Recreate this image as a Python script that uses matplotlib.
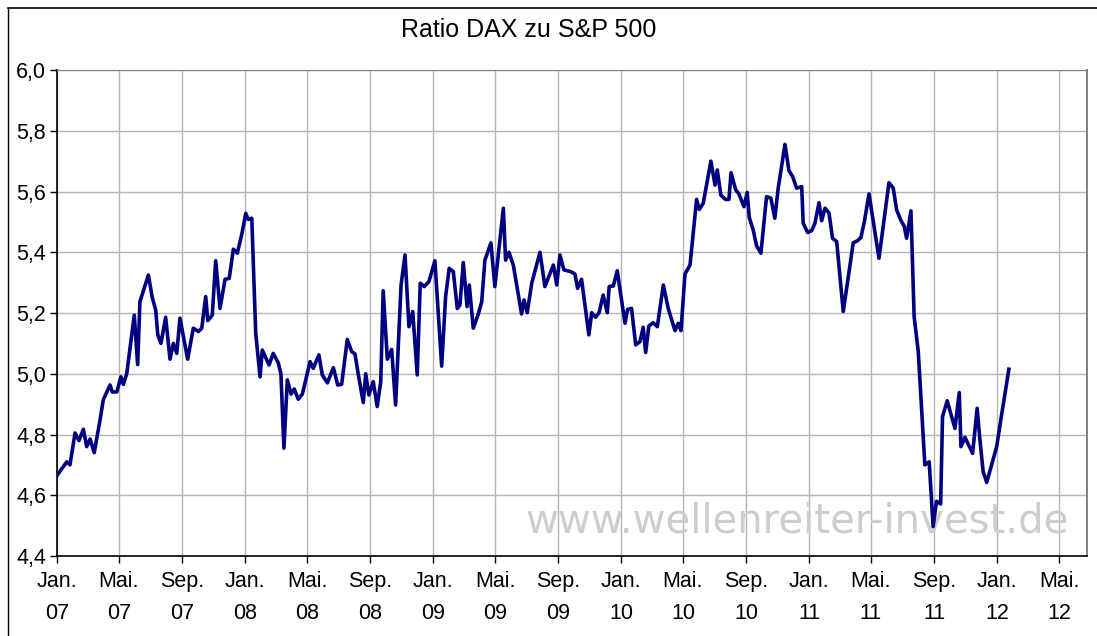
"""Ratio DAX zu S&P 500 (Wochendaten 2007-2012)."""
import numpy as np
import pandas as pd
import matplotlib
matplotlib.use("Agg")
import matplotlib.pyplot as plt
from matplotlib.ticker import FuncFormatter
from matplotlib.lines import Line2D

plt.rcParams['font.family'] = ['Liberation Sans', 'DejaVu Sans']

# Zeitpunkte als Dezimaljahre, Werte = Ratio DAX / S&P 500
years = [
    2007.000, 2007.052, 2007.069, 2007.096, 2007.117, 2007.140, 2007.158, 2007.176,
    2007.198, 2007.229, 2007.246, 2007.282, 2007.294, 2007.318, 2007.340, 2007.353,
    2007.371, 2007.411, 2007.429, 2007.441, 2007.486, 2007.507, 2007.525, 2007.536,
    2007.553, 2007.578, 2007.601, 2007.619, 2007.637, 2007.654, 2007.695, 2007.725,
    2007.752, 2007.770, 2007.791, 2007.802, 2007.826, 2007.844, 2007.867, 2007.894,
    2007.916, 2007.938, 2007.959, 2007.982, 2008.004, 2008.017, 2008.036, 2008.057,
    2008.080, 2008.092, 2008.128, 2008.150, 2008.177, 2008.191, 2008.207, 2008.225,
    2008.245, 2008.262, 2008.283, 2008.305, 2008.346, 2008.363, 2008.393, 2008.411,
    2008.438, 2008.470, 2008.493, 2008.514, 2008.544, 2008.567, 2008.585, 2008.602,
    2008.629, 2008.642, 2008.659, 2008.682, 2008.703, 2008.722, 2008.735, 2008.757,
    2008.780, 2008.801, 2008.830, 2008.851, 2008.872, 2008.892, 2008.916, 2008.932,
    2008.953, 2008.978, 2009.010, 2009.046, 2009.067, 2009.086, 2009.108, 2009.129,
    2009.143, 2009.161, 2009.181, 2009.193, 2009.214, 2009.241, 2009.259, 2009.276,
    2009.308, 2009.329, 2009.374, 2009.386, 2009.404, 2009.427, 2009.471, 2009.484,
    2009.501, 2009.525, 2009.569, 2009.595, 2009.640, 2009.658, 2009.675, 2009.696,
    2009.734, 2009.755, 2009.769, 2009.790, 2009.829, 2009.844, 2009.865, 2009.883,
    2009.905, 2009.927, 2009.937, 2009.959, 2009.980, 2010.021, 2010.035, 2010.056,
    2010.078, 2010.101, 2010.118, 2010.131, 2010.148, 2010.171, 2010.193, 2010.225,
    2010.251, 2010.287, 2010.304, 2010.319, 2010.340, 2010.367, 2010.402, 2010.416,
    2010.437, 2010.478, 2010.500, 2010.512, 2010.531, 2010.556, 2010.574, 2010.585,
    2010.610, 2010.627, 2010.654, 2010.671, 2010.682, 2010.703, 2010.721, 2010.744,
    2010.774, 2010.797, 2010.818, 2010.836, 2010.872, 2010.893, 2010.913, 2010.934,
    2010.961, 2010.969, 2010.993, 2011.014, 2011.031, 2011.053, 2011.067, 2011.085,
    2011.106, 2011.125, 2011.147, 2011.182, 2011.235, 2011.258, 2011.276, 2011.294,
    2011.319, 2011.372, 2011.425, 2011.448, 2011.466, 2011.489, 2011.506, 2011.519,
    2011.542, 2011.559, 2011.581, 2011.616, 2011.639, 2011.660, 2011.678, 2011.700,
    2011.710, 2011.735, 2011.776, 2011.799, 2011.808, 2011.829, 2011.870, 2011.894,
    2011.909, 2011.926, 2011.945, 2011.998, 2012.024, 2012.063,
]
ratio = [
    4.665, 4.710, 4.700, 4.805, 4.780, 4.817, 4.760, 4.785,
    4.740, 4.848, 4.914, 4.963, 4.940, 4.940, 4.990, 4.965,
    5.000, 5.193, 5.030, 5.237, 5.325, 5.250, 5.210, 5.128,
    5.100, 5.186, 5.048, 5.100, 5.067, 5.183, 5.048, 5.150,
    5.139, 5.150, 5.254, 5.175, 5.193, 5.372, 5.215, 5.311,
    5.314, 5.410, 5.397, 5.457, 5.528, 5.508, 5.512, 5.133,
    4.990, 5.078, 5.029, 5.067, 5.036, 5.000, 4.755, 4.980,
    4.933, 4.950, 4.916, 4.933, 5.040, 5.018, 5.062, 4.996,
    4.970, 5.020, 4.963, 4.965, 5.113, 5.073, 5.065, 5.000,
    4.905, 5.000, 4.930, 4.974, 4.892, 4.974, 5.273, 5.048,
    5.080, 4.897, 5.292, 5.391, 5.155, 5.205, 4.996, 5.298,
    5.287, 5.303, 5.372, 5.025, 5.254, 5.347, 5.336, 5.215,
    5.226, 5.366, 5.221, 5.292, 5.150, 5.197, 5.237, 5.374,
    5.431, 5.287, 5.545, 5.374, 5.400, 5.358, 5.197, 5.243,
    5.201, 5.298, 5.400, 5.287, 5.358, 5.292, 5.391, 5.342,
    5.336, 5.328, 5.281, 5.311, 5.128, 5.201, 5.186, 5.201,
    5.259, 5.201, 5.287, 5.289, 5.339, 5.166, 5.212, 5.215,
    5.095, 5.106, 5.153, 5.070, 5.157, 5.168, 5.155, 5.292,
    5.215, 5.142, 5.166, 5.142, 5.328, 5.358, 5.574, 5.541,
    5.561, 5.700, 5.621, 5.671, 5.588, 5.574, 5.574, 5.662,
    5.605, 5.592, 5.550, 5.597, 5.515, 5.473, 5.421, 5.397,
    5.583, 5.578, 5.512, 5.611, 5.755, 5.669, 5.649, 5.611,
    5.616, 5.495, 5.465, 5.471, 5.495, 5.563, 5.504, 5.545,
    5.530, 5.446, 5.435, 5.205, 5.431, 5.438, 5.449, 5.500,
    5.592, 5.380, 5.629, 5.611, 5.539, 5.504, 5.486, 5.446,
    5.536, 5.188, 5.073, 4.700, 4.710, 4.497, 4.580, 4.571,
    4.859, 4.911, 4.820, 4.938, 4.760, 4.791, 4.738, 4.886,
    4.782, 4.678, 4.642, 4.760, 4.864, 5.015,
]

tick_months = ["Jan.", "Mai.", "Sep."]
tick_years = ["07", "08", "09", "10", "11", "12"]
y_ticks = [4.4, 4.6, 4.8, 5.0, 5.2, 5.4, 5.6, 5.8, 6.0]

title = "Ratio DAX zu S&P 500"
watermark = "www.wellenreiter-invest.de"


def to_dates(yrs):
    """Dezimaljahre in Datumswerte umrechnen."""
    yrs = np.asarray(yrs)
    return pd.to_datetime("2007-01-01") + pd.to_timedelta((yrs - 2007) * 365.25, unit="D")


def main():
    dates = to_dates(years)

    fig = plt.figure(figsize=(10.97, 6.36), dpi=100)
    ax = fig.add_axes([57 / 1097, 1 - 556 / 636, 1030 / 1097, 486 / 636])

    ax.plot(dates, ratio, color="#000080", lw=2.6, zorder=3, solid_joinstyle="round")

    # Achsen
    ax.set_ylim(4.4, 6.0)
    ax.set_yticks(y_ticks)
    ax.yaxis.set_major_formatter(FuncFormatter(lambda v, p: f"{v:.1f}".replace(".", ",")))
    ax.set_xlim(pd.Timestamp("2007-01-01"), pd.Timestamp("2012-06-24"))
    ticks = pd.date_range("2007-01-01", "2012-05-01", freq="4MS")
    ax.set_xticks(ticks)
    labels = [f"{tick_months[i % 3]}\n{tick_years[i // 3]}" for i in range(len(ticks))]
    ax.set_xticklabels(labels, linespacing=1.7)

    ax.grid(True, color="#b4b4b4", lw=1.0)
    ax.set_axisbelow(True)
    ax.tick_params(axis="both", direction="out", length=5, width=1, color="black",
                   labelsize=15.5, pad=3)
    ax.tick_params(axis="x", pad=6)
    for side in ("left", "bottom"):
        ax.spines[side].set_color("black")
        ax.spines[side].set_linewidth(1.2)
    ax.spines["top"].set_color("#808080")
    ax.spines["right"].set_color("#808080")
    ax.spines["right"].set_linewidth(1.4)

    ax.text(0.982, 0.07, watermark, transform=ax.transAxes, ha="right", va="center",
            fontsize=29, color="#cdcdcd", family=["DejaVu Sans"], zorder=2)

    fig.text(529 / 1097, 1 - 30 / 636, title, ha="center", va="center", fontsize=18)

    # äußerer Rahmen
    fig.add_artist(Line2D([8 / 1097, 8 / 1097], [0, 1 - 8 / 636], color="black", lw=1.0))
    fig.add_artist(Line2D([8 / 1097, 1], [1 - 8 / 636, 1 - 8 / 636], color="black", lw=1.2))

    fig.savefig("out.png", dpi=100)


if __name__ == "__main__":
    main()
